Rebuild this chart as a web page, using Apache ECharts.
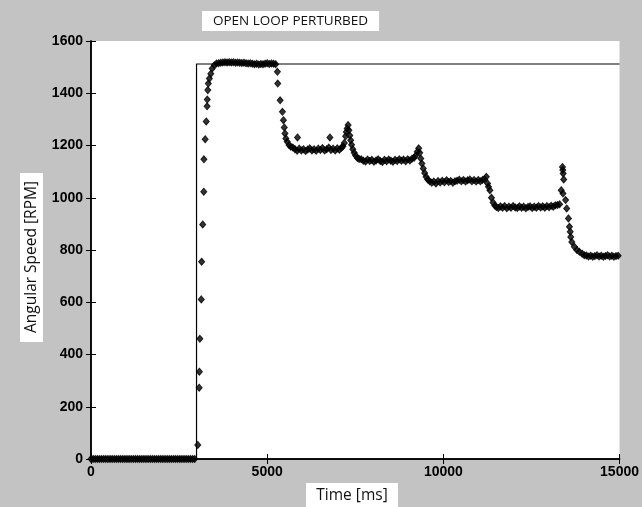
<!DOCTYPE html>
<html>
<head>
<meta charset="utf-8">
<script src="https://cdn.jsdelivr.net/npm/echarts@6/dist/echarts.min.js"></script>
<style>
  html, body { margin: 0; padding: 0; background: #c3c3c3; }
  #chart { width: 642px; height: 507px; }
</style>
</head>
<body>
<div id="chart"></div>
<script>
// axis ticks
const xTicks = [0, 5000, 10000, 15000];
const yTicks = [0, 200, 400, 600, 800, 1000, 1200, 1400, 1600];

// reference step command [ms, RPM]
const stepCommand = [[0, 0], [2995, 0], [2995, 1512], [15000, 1512]];

const speedIdle = [
  [0, 0], [60, 0], [120, 0], [180, 0], [240, 0], [300, 0], [360, 0], [420, 0], [480, 0], [540, 0],
  [600, 0], [660, 0], [720, 0], [780, 0], [840, 0], [900, 0], [960, 0], [1020, 0], [1080, 0], [1140, 0],
  [1200, 0], [1260, 0], [1320, 0], [1380, 0], [1440, 0], [1500, 0], [1560, 0], [1620, 0], [1680, 0], [1740, 0],
  [1800, 0], [1860, 0], [1920, 0], [1980, 0], [2040, 0], [2100, 0], [2160, 0], [2220, 0], [2280, 0], [2340, 0],
  [2400, 0], [2460, 0], [2520, 0], [2580, 0], [2640, 0], [2700, 0], [2760, 0], [2820, 0], [2880, 0], [2940, 0]
];

const speedRise = [
  [3030, 54], [3070, 273], [3075, 334], [3090, 460], [3130, 611], [3140, 755], [3170, 898],
  [3200, 1023], [3205, 1147], [3240, 1224], [3270, 1292], [3295, 1350], [3300, 1376], [3315, 1412],
  [3330, 1437], [3360, 1456], [3400, 1475], [3440, 1495], [3500, 1507], [3560, 1514]
];

const speedPlateau = [
  [3620, 1515], [3680, 1517], [3740, 1518], [3800, 1519], [3860, 1518], [3920, 1519], [3980, 1518],
  [4040, 1519], [4100, 1517], [4160, 1518], [4220, 1517], [4280, 1516], [4340, 1517], [4400, 1515],
  [4460, 1514], [4520, 1515], [4580, 1513], [4640, 1511], [4700, 1513], [4760, 1510], [4820, 1512],
  [4880, 1511], [4940, 1513], [5000, 1515], [5060, 1512], [5120, 1514], [5180, 1513], [5240, 1511]
];

const speedLoad1 = [
  [5290, 1482], [5300, 1437], [5368, 1373], [5433, 1329], [5461, 1297], [5485, 1269], [5505, 1246],
  [5530, 1227], [5570, 1214], [5620, 1202], [5670, 1195],
  [5730, 1192], [5790, 1186], [5850, 1180], [5910, 1188], [5970, 1181], [6030, 1186], [6090, 1179],
  [6150, 1185], [6210, 1189], [6270, 1181], [6330, 1186], [6390, 1180], [6450, 1188], [6510, 1183],
  [6570, 1190], [6630, 1181], [6690, 1186], [6750, 1192], [6810, 1183], [6870, 1188], [6930, 1181],
  [6990, 1189], [7050, 1184], [7110, 1191], [7150, 1197], [5860, 1231], [6780, 1231]
];

const speedLoad2 = [
  [7190, 1210], [7225, 1235], [7245, 1252], [7270, 1265], [7297, 1278], [7320, 1258], [7345, 1238],
  [7370, 1220], [7395, 1203], [7430, 1186], [7470, 1172], [7510, 1162], [7560, 1152], [7610, 1148],
  [7670, 1147], [7730, 1142], [7790, 1139], [7850, 1146], [7910, 1141], [7970, 1145], [8030, 1138],
  [8090, 1143], [8150, 1147], [8210, 1141], [8270, 1137], [8330, 1145], [8390, 1140], [8450, 1146],
  [8510, 1142], [8570, 1138], [8630, 1145], [8690, 1141], [8750, 1147], [8810, 1142], [8870, 1146],
  [8930, 1140], [8990, 1147], [9050, 1143], [9110, 1149], [9170, 1153]
];

const speedLoad3 = [
  [9215, 1162], [9260, 1176], [9300, 1189], [9330, 1172], [9360, 1150], [9390, 1131], [9430, 1112],
  [9470, 1095], [9510, 1080], [9555, 1070],
  [9610, 1063], [9670, 1057], [9730, 1062], [9790, 1055], [9850, 1064], [9910, 1058], [9970, 1065],
  [10030, 1059], [10090, 1067], [10150, 1060], [10210, 1064], [10270, 1057], [10330, 1063], [10390, 1065],
  [10450, 1069], [10510, 1063], [10570, 1068], [10630, 1062], [10690, 1067], [10750, 1070], [10810, 1063],
  [10870, 1068], [10930, 1062], [10990, 1068], [11050, 1063], [11110, 1068], [11170, 1071]
];

const speedLoad4 = [
  [11220, 1080], [11255, 1055], [11280, 1042], [11320, 1029], [11365, 1000], [11410, 982], [11460, 970],
  [11505, 965],
  [11560, 961], [11620, 967], [11680, 962], [11740, 968], [11800, 960], [11860, 966], [11920, 962],
  [11980, 968], [12040, 963], [12100, 961], [12160, 967], [12220, 962], [12280, 966], [12340, 960],
  [12400, 965], [12460, 967], [12520, 961], [12580, 966], [12640, 962], [12700, 968], [12760, 963],
  [12820, 967], [12880, 962], [12940, 968], [13000, 964], [13060, 969], [13120, 966], [13180, 971],
  [13240, 972], [13300, 975]
];

const speedLoad5 = [
  [13345, 1029], [13380, 1118], [13390, 1106], [13400, 1093], [13415, 1070], [13395, 1016], [13470, 991],
  [13500, 959], [13550, 921], [13578, 889], [13600, 870], [13615, 850], [13645, 831], [13720, 812],
  [13790, 800], [13860, 793], [13940, 786], [14000, 780],
  [14060, 779], [14120, 775], [14180, 778], [14240, 774], [14300, 777], [14360, 780], [14420, 775],
  [14480, 778], [14540, 774], [14600, 777], [14660, 780], [14720, 775], [14780, 778], [14840, 774],
  [14900, 777], [14960, 778]
];

const speedData = [].concat(speedIdle, speedRise, speedPlateau, speedLoad1, speedLoad2, speedLoad3, speedLoad4, speedLoad5);

const chart = echarts.init(document.getElementById('chart'));

const tickFont = { color: '#000', fontFamily: 'Liberation Sans', fontWeight: 'bold', fontSize: 14 };
const boxFont = 'Open Sans, Noto Sans, sans-serif';
const frameLine = { lineStyle: { color: '#000', width: 1.5 } };
const innerTick = { show: true, inside: true, length: 5, lineStyle: { color: '#000', width: 1 } };
const plainNumber = (v) => String(v);

chart.setOption({
  animation: false,
  backgroundColor: '#c3c3c3',
  title: {
    text: 'OPEN LOOP PERTURBED',
    left: 202,
    top: 11,
    padding: [3, 11, 3, 11],
    backgroundColor: '#fff',
    textStyle: { fontFamily: boxFont, fontSize: 13.5, fontWeight: 'normal', color: '#111' },
  },
  grid: { left: 91, right: 20, top: 41, bottom: 48, show: true, backgroundColor: '#fff', borderWidth: 0 },
  xAxis: [
    {
      type: 'value',
      position: 'bottom',
      min: xTicks[0],
      max: xTicks[xTicks.length - 1],
      interval: 5000,
      axisLine: frameLine,
      axisTick: innerTick,
      axisLabel: Object.assign({ margin: 6, formatter: plainNumber }, tickFont),
      splitLine: { show: false },
    },
    {
      type: 'value',
      position: 'top',
      min: xTicks[0],
      max: xTicks[xTicks.length - 1],
      interval: 5000,
      axisLine: frameLine,
      axisTick: innerTick,
      axisLabel: { show: false },
      splitLine: { show: false },
    },
  ],
  yAxis: [
    {
      type: 'value',
      position: 'left',
      min: yTicks[0],
      max: yTicks[yTicks.length - 1],
      interval: 200,
      axisLine: frameLine,
      axisTick: innerTick,
      axisLabel: Object.assign({ margin: 8, formatter: plainNumber }, tickFont),
      splitLine: { show: false },
    },
    {
      type: 'value',
      position: 'right',
      min: yTicks[0],
      max: yTicks[yTicks.length - 1],
      interval: 200,
      axisLine: frameLine,
      axisTick: innerTick,
      axisLabel: { show: false },
      splitLine: { show: false },
    },
  ],
  graphic: [
    {
      type: 'rect',
      shape: { x: 20, y: 173, width: 23, height: 169 },
      style: { fill: '#fff' },
    },
    {
      type: 'text',
      x: 32,
      y: 257,
      rotation: Math.PI / 2,
      style: {
        text: 'Angular Speed [RPM]',
        fill: '#111',
        font: '15.5px ' + boxFont,
        align: 'center',
        verticalAlign: 'middle',
      },
    },
    {
      type: 'rect',
      shape: { x: 306, y: 483, width: 92, height: 26 },
      style: { fill: '#fff' },
    },
    {
      type: 'text',
      x: 352,
      y: 496,
      style: {
        text: 'Time [ms]',
        fill: '#111',
        font: '15.5px ' + boxFont,
        align: 'center',
        verticalAlign: 'middle',
      },
    },
  ],
  series: [
    {
      name: 'Command',
      type: 'line',
      data: stepCommand,
      symbol: 'none',
      lineStyle: { color: '#000', width: 1.2 },
      z: 2,
    },
    {
      name: 'Speed',
      type: 'scatter',
      data: speedData,
      clip: false,
      symbol: 'diamond',
      symbolSize: [6, 7],
      itemStyle: { color: '#000', borderColor: '#000', borderWidth: 1 },
      z: 3,
    },
  ],
});
</script>
</body>
</html>
